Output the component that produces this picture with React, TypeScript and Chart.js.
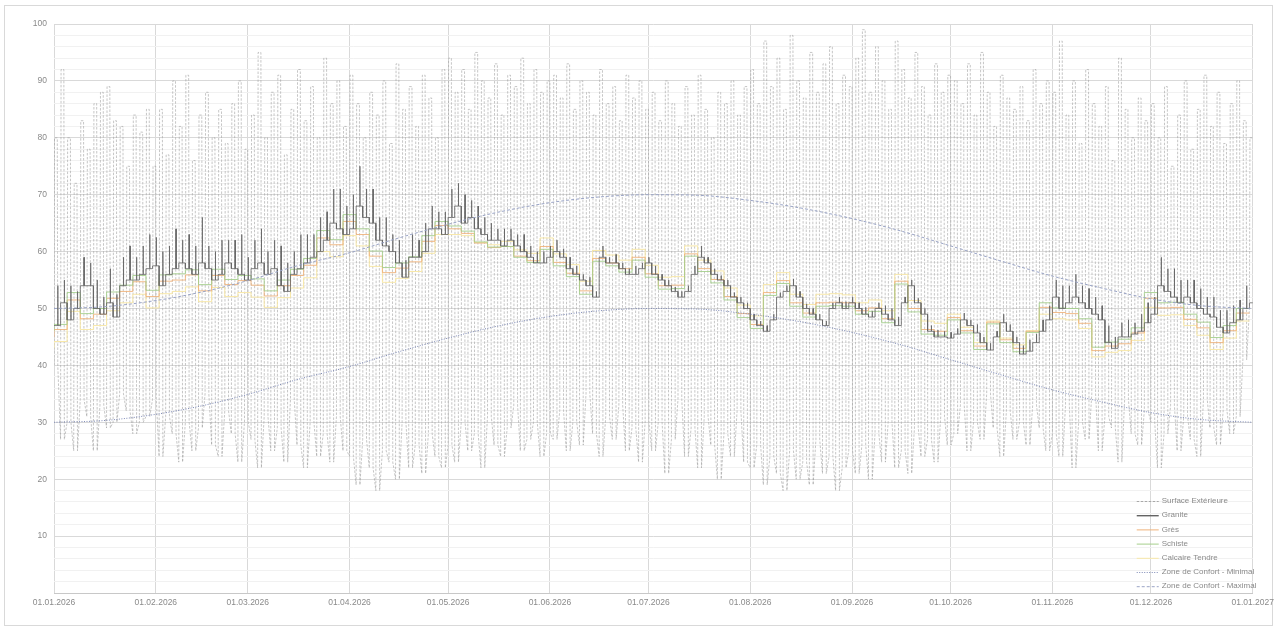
import React, { useEffect, useRef } from 'react';
import { Chart, registerables } from 'chart.js';

Chart.register(...registerables);

// ---- Axis / category data ----
const MONTH_DAYS = [0, 31, 59, 90, 120, 151, 181, 212, 243, 273, 304, 334, 365];
const MONTH_LABELS = [
  '01.01.2026', '01.02.2026', '01.03.2026', '01.04.2026', '01.05.2026', '01.06.2026',
  '01.07.2026', '01.08.2026', '01.09.2026', '01.10.2026', '01.11.2026', '01.12.2026', '01.01.2027',
];
const SERIES_LABELS = [
  'Surface Extérieure', 'Granite', 'Grès', 'Schiste', 'Calcaire Tendre',
  'Zone de Confort - Minimal', 'Zone de Confort - Maximal',
];

// ---- Surface Extérieure: daily high / low, one pair per 2-day step (day = 2*i) ----
const SURFACE_HIGH = [
  80, 92, 80, 72, 83, 78, 86, 88, 89, 83, 82, 75, 84, 81, 85, 75,
  85, 77, 90, 82, 91, 76, 84, 88, 80, 85, 79, 86, 90, 78,
  84, 95, 80, 88, 91, 77, 85, 92, 83, 89, 80, 94, 86, 90, 82,
  91, 86, 80, 88, 84, 90, 79, 93, 85, 89, 82, 91, 87, 80, 92,
  94, 88, 92, 85, 95, 90, 87, 93, 84, 91, 89, 94, 86, 92, 88, 90,
  91, 87, 93, 85, 90, 88, 84, 92, 86, 89, 83, 91, 87, 90, 85,
  88, 83, 90, 86, 82, 89, 84, 91, 85, 80, 88, 86, 90, 84, 89,
  92, 86, 97, 89, 94, 85, 98, 90, 87, 95, 88, 93, 96, 86, 91, 89,
  94, 99, 88, 96, 90, 85, 97, 92, 87, 95, 89, 84, 93, 88, 91,
  90, 86, 93, 84, 95, 88, 82, 91, 87, 85, 89, 83, 92, 86, 90,
  88, 97, 84, 90, 79, 92, 86, 82, 89, 76, 94, 85, 80, 87, 83,
  86, 80, 89, 75, 84, 90, 78, 85, 91, 82, 88, 79, 86, 90, 83, 80,
];
const SURFACE_LOW = [
  40, 27, 30, 25, 34, 31, 25, 33, 29, 30, 35, 32, 28, 30, 31, 34,
  24, 31, 28, 23, 30, 25, 29, 35, 26, 24, 32, 28, 23, 30,
  27, 22, 31, 25, 29, 23, 34, 26, 22, 30, 24, 28, 23, 31, 25,
  24, 19, 27, 22, 18, 25, 23, 20, 30, 22, 26, 21, 28, 24, 22,
  26, 23, 30, 25, 28, 22, 31, 26, 24, 29, 33, 25, 27, 30, 24, 28,
  27, 32, 25, 30, 26, 35, 28, 24, 31, 27, 33, 25, 29, 23, 30,
  25, 30, 21, 27, 34, 24, 29, 22, 31, 26, 20, 28, 24, 32, 23,
  22, 26, 19, 24, 21, 18, 25, 20, 23, 19, 27, 21, 24, 18, 22, 25,
  21, 26, 20, 28, 23, 30, 22, 25, 21, 29, 24, 27, 23, 31, 26,
  28, 33, 25, 30, 27, 35, 29, 24, 32, 27, 30, 26, 33, 29, 25,
  28, 24, 33, 22, 30, 27, 35, 25, 31, 29, 23, 34, 28, 26, 32,
  30, 22, 28, 33, 25, 31, 27, 24, 34, 29, 26, 32, 28, 31, 41, 50,
];

// ---- Granite: base level and daily peak height, per 2-day step ----
const GRANITE_BASE = [
  47, 51, 48, 50, 54, 54, 50, 49, 51, 48.5, 54, 55, 55, 56, 57, 57.5, 54, 56, 57, 58,
  57, 56, 58, 57, 55, 56, 58, 57, 56, 55, 57, 58, 56, 57, 54, 53, 56, 57, 58, 59, 60, 62,
  65, 64, 63, 64, 68, 66, 65, 62, 61, 60, 58, 55.5, 59, 59, 60, 64, 64, 63, 66, 68, 65, 66, 64, 63, 62,
  62, 61, 62, 61, 60, 59, 58, 58, 59, 60, 59, 57, 56, 55, 54, 52, 59, 58, 58, 57,
  56, 56, 57, 58, 56, 55, 54, 53, 52, 53, 56, 59, 58, 56, 55, 54, 52, 51, 50, 48,
  47, 46, 48, 52, 53, 54, 52,
  50, 49, 48, 47, 50, 51, 50, 51, 50, 49, 48.5, 50, 49, 48, 47, 51, 54, 51, 49, 46,
  45, 45, 44.8, 45.5, 48, 47, 45.7, 44, 42.7, 45, 47.5, 46, 44, 42, 42.5, 44, 46, 48, 52, 50,
  51, 52, 51, 50, 49, 48, 44, 43, 45, 45, 45.5, 46, 47.5, 49, 54, 53, 52, 51, 52, 51,
  50, 49, 48.5, 46.7, 45.7, 47.5, 48, 50, 51,
];
const GRANITE_SPIKE = [
  7, 4, 6, 3, 5, 4, 5, 3, 6, 4, 5, 6, 4, 5, 6, 5,
  6, 5, 7, 4, 6, 5, 8, 4, 5, 6, 4, 5, 7, 4,
  5, 6, 4, 5, 7, 5, 4, 6, 5, 4, 6, 5, 6, 7, 5,
  6, 7, 5, 6, 4, 5, 3, 4, 3, 4, 3, 5, 4, 3, 4,
  5, 4, 5, 3, 4, 3, 3, 2, 3, 2, 2, 3, 2, 2, 2, 2,
  2, 1.5, 2, 1.5, 1, 1.5, 1, 2, 1, 1.5, 1, 1, 1.5, 1, 1,
  1.5, 1, 1, 0.8, 1, 1, 1.5, 2, 1, 1, 0.8, 1, 0.8, 1, 1,
  1, 0.8, 1, 1, 0.8, 1, 1.2, 1, 0.8, 1, 1, 0.8, 1, 1, 1.2, 1,
  1, 1.2, 1, 1, 1.5, 2, 1.5, 1, 1, 0.8, 1, 1, 1.2, 1, 1,
  1, 1.2, 1, 1.5, 1, 1.2, 1, 1.5, 1.2, 1, 1.5, 2, 1.5, 2, 2.5,
  3, 4, 3, 4, 3, 3.5, 3, 2.5, 3, 2, 2.5, 3, 2, 3, 3.5,
  3, 5, 4, 5, 4, 3, 4, 3.5, 3, 3.5, 3, 4, 3, 3.5, 4, 4,
];

// ---- Other stones, one value per 4-day step (day = 4*j) ----
const GRES = [
  45, 46.3, 51.5, 48.2, 49, 51.8, 53, 54.7, 52.1, 54.8, 55, 55.9, 53.1, 55.8, 54.2, 54.9, 54.1, 52.2, 54, 55.8,
  57.6, 62.4, 61.2, 65.3, 63, 59.2, 56.3, 57.1, 58.2, 61.8,
  64.6, 64, 63.2, 61.5, 60.7, 60.9, 59.2, 58.4,
  60.9, 58.1, 56.2, 53.1, 58.8, 58, 57, 59, 56.1, 54, 54.1, 59.6, 57, 55.1, 52.1, 49.1, 47.2, 52.8, 54.9, 51,
  49.2, 51, 51.1, 51, 49.6, 50.1, 48.2, 54.8, 50, 46.3, 46,
  48.4, 46.1, 43.4, 47.6, 44.5, 43, 46,
  50.2, 49.3, 49.1, 47.4, 42.6, 43.4, 43.8, 45.7, 51.8, 50.1, 50.2, 48.1, 46.6, 44, 46.1, 49.2,
];
const SCHISTE = [
  46, 47.2, 52.8, 49.1, 50, 52.9, 54.1, 55.8, 53.2, 55.9, 56.1, 56.8, 54.2, 56.9, 55.1, 55.8, 55.2, 53.1, 55, 56.9,
  58.8, 63.7, 62.1, 66.5, 64, 60.1, 57.2, 58, 59.1, 62.8,
  65.3, 64.5, 63.6, 61.7, 60.8, 60.9, 59, 58.1,
  60.4, 57.5, 55.6, 52.5, 58.3, 57.5, 56.4, 58.5, 55.5, 53.4, 53.5, 59.2, 56.5, 54.5, 51.5, 48.4, 46.5, 52.3, 54.4, 50.4,
  48.5, 50.4, 50.5, 50.4, 49, 49.5, 47.5, 54.3, 49.4, 45.5, 45.3,
  48, 45.7, 42.8, 47.3, 44, 42.4, 45.8,
  51, 50.1, 50, 48.2, 43.2, 44.1, 44.6, 46.6, 52.8, 51, 51.1, 49, 47.6, 44.9, 47, 50,
];
const CALCAIRE = [
  43, 44.2, 49.5, 46.3, 47, 49.6, 51, 52.5, 50.1, 52.6, 53, 53.8, 51.2, 53.7, 52.1, 52.8, 52, 50.2, 51.9, 53.6,
  55.4, 60, 59.1, 62.8, 61, 57.4, 54.6, 55.3, 56.5, 59.7,
  63, 63, 62.8, 61.6, 61.2, 61.8, 60.3, 59.7,
  62.4, 59.6, 57.7, 54.8, 60.2, 59.4, 58.5, 60.4, 57.6, 55.5, 55.6, 61, 58.5, 56.6, 53.6, 50.6, 48.7, 54.2, 56.3, 52.5,
  50.7, 52.5, 52.6, 52.4, 51, 51.5, 49.6, 56, 51.4, 47.8, 47.4,
  49, 46.7, 44, 47.8, 44.8, 43.6, 46.1,
  49, 48.2, 48, 46.5, 41.5, 42.3, 42.6, 44.4, 50.2, 48.8, 48.9, 47, 45.3, 42.8, 44.8, 47.8,
];

// ---- Comfort zone ----
const COMFORT_DAYS = [0, 15, 31, 45, 59, 74, 90, 105, 120, 135, 151, 166, 181, 196, 212, 227, 243, 258, 273, 288, 304, 319, 334, 349, 365];
const COMFORT_MIN = [30, 30.3, 31.4, 32.9, 34.9, 37.5, 39.8, 42.4, 44.8, 46.9, 48.6, 49.6, 50, 49.9, 49, 47.7, 45.8, 43.6, 41, 38.4, 35.7, 33.6, 31.7, 30.5, 30];
const COMFORT_MAX = [50, 50.3, 51.4, 52.9, 54.9, 57.5, 59.8, 62.4, 64.8, 66.9, 68.6, 69.6, 70, 69.9, 69, 67.7, 65.8, 63.6, 61, 58.4, 55.7, 53.6, 51.7, 50.5, 50];

const FONT = "'Liberation Sans Narrow', 'Liberation Sans', Arial, sans-serif";
const TEXT_COLOR = '#8a8a8a';

const STYLES = [
  { color: 'rgba(155,155,155,0.72)', width: 0.8, dash: [2.5, 1.5] },
  { color: '#646464', width: 0.8, dash: [] },
  { color: '#efb27a', width: 0.9, dash: [] },
  { color: '#a5cf8c', width: 0.9, dash: [] },
  { color: '#f8e8a8', width: 1, dash: [] },
  { color: '#7d89b6', width: 1, dash: [1, 1.5] },
  { color: '#9aa4c6', width: 1, dash: [3, 2] },
];

function buildSurface() {
  const pts: { x: number; y: number }[] = [];
  SURFACE_HIGH.forEach((h, i) => {
    const d = 2 * i;
    const l = SURFACE_LOW[i];
    pts.push({ x: d, y: l }, { x: d + 0.15, y: h }, { x: d + 1.0, y: h }, { x: d + 1.15, y: l });
  });
  return pts;
}

function buildGranite() {
  const pts: { x: number; y: number }[] = [];
  GRANITE_BASE.forEach((b, i) => {
    const d = 2 * i;
    const s = GRANITE_SPIKE[i];
    pts.push(
      { x: d, y: b }, { x: d + 1.1, y: b }, { x: d + 1.15, y: b + s },
      { x: d + 1.2, y: b }, { x: d + 2, y: b },
    );
  });
  return pts;
}

function build4(arr: number[]) {
  return arr.map((v, j) => ({ x: 4 * j, y: v }));
}

function buildComfort(arr: number[]) {
  return arr.map((v, k) => ({ x: COMFORT_DAYS[k], y: v }));
}

const legendPlugin = {
  id: 'customLegend',
  afterDraw(chart: any) {
    const ctx = chart.ctx;
    const area = chart.chartArea;
    const x0 = area.right - 116;
    const y0 = area.bottom - 92;
    const step = 14.2;
    ctx.save();
    ctx.font = `8px ${FONT}`;
    ctx.textBaseline = 'middle';
    ctx.fillStyle = TEXT_COLOR;
    SERIES_LABELS.forEach((label, k) => {
      const y = y0 + k * step;
      const st = STYLES[k];
      ctx.beginPath();
      ctx.strokeStyle = k === 0 ? '#a8a8a8' : st.color;
      ctx.lineWidth = k === 1 ? 1.4 : 1;
      ctx.setLineDash(st.dash);
      ctx.moveTo(x0, y + 0.5);
      ctx.lineTo(x0 + 22, y + 0.5);
      ctx.stroke();
      ctx.setLineDash([]);
      ctx.fillText(label, x0 + 25, y);
    });
    ctx.restore();
  },
};

export default function App() {
  const ref = useRef<HTMLCanvasElement | null>(null);

  useEffect(() => {
    document.body.style.margin = '0';
    const canvas = ref.current;
    if (!canvas) return;

    const mk = (k: number, data: any[], order: number, extra: any = {}) => ({
      label: SERIES_LABELS[k],
      data,
      borderColor: STYLES[k].color,
      borderWidth: STYLES[k].width,
      borderDash: STYLES[k].dash,
      pointRadius: 0,
      fill: false,
      tension: 0,
      order,
      ...extra,
    });

    const chart = new Chart(canvas, {
      type: 'line',
      data: {
        datasets: [
          mk(0, buildSurface(), 7),
          mk(1, buildGranite(), 3),
          mk(2, build4(GRES), 5, { stepped: 'after' }),
          mk(3, build4(SCHISTE), 4, { stepped: 'after' }),
          mk(4, build4(CALCAIRE), 6, { stepped: 'after' }),
          mk(5, buildComfort(COMFORT_MIN), 2, { cubicInterpolationMode: 'monotone' }),
          mk(6, buildComfort(COMFORT_MAX), 1, { cubicInterpolationMode: 'monotone' }),
        ] as any,
      },
      options: {
        animation: false,
        responsive: true,
        maintainAspectRatio: false,
        parsing: false,
        layout: { padding: { left: 0, right: 25, top: 24, bottom: 0 } },
        plugins: {
          legend: { display: false },
          tooltip: { enabled: false },
        },
        scales: {
          x: {
            type: 'linear',
            min: 0,
            max: 365,
            afterBuildTicks: (scale: any) => {
              scale.ticks = MONTH_DAYS.map((v) => ({ value: v }));
            },
            afterFit: (scale: any) => {
              scale.height = 35;
            },
            ticks: {
              autoSkip: false,
              maxRotation: 0,
              padding: 5,
              color: TEXT_COLOR,
              font: { family: FONT, size: 8.5 },
              callback: (_v: any, i: number) => MONTH_LABELS[i],
            },
            grid: { color: '#d9d9d9', lineWidth: 1, drawTicks: false },
            border: { color: '#c8c8c8' },
          },
          y: {
            type: 'linear',
            min: 0,
            max: 100,
            afterBuildTicks: (scale: any) => {
              const t: any[] = [];
              for (let v = 0; v <= 100; v += 2) t.push({ value: v });
              scale.ticks = t;
            },
            afterFit: (scale: any) => {
              scale.width = 54;
            },
            ticks: {
              autoSkip: false,
              padding: 7,
              color: TEXT_COLOR,
              font: { family: FONT, size: 8.5 },
              callback: (v: any) => (v % 10 === 0 && v !== 0 ? String(v) : ''),
            },
            grid: {
              drawTicks: false,
              lineWidth: 1,
              color: (c: any) => {
                const v = c.tick ? c.tick.value : 0;
                if (v === 0) return '#c8c8c8';
                return v % 10 === 0 ? '#d9d9d9' : '#f1f1f1';
              },
            },
            border: { display: false },
          },
        },
      } as any,
      plugins: [legendPlugin],
    });

    return () => chart.destroy();
  }, []);

  return (
    <div style={{ position: 'relative', width: 1279, height: 628, background: '#fff' }}>
      <div
        style={{
          position: 'absolute', left: 4, top: 5, width: 1269, height: 621,
          border: '1px solid #d9d9d9', boxSizing: 'border-box', pointerEvents: 'none',
        }}
      />
      <canvas ref={ref} style={{ position: 'absolute', left: 0, top: 0 }} />
    </div>
  );
}
